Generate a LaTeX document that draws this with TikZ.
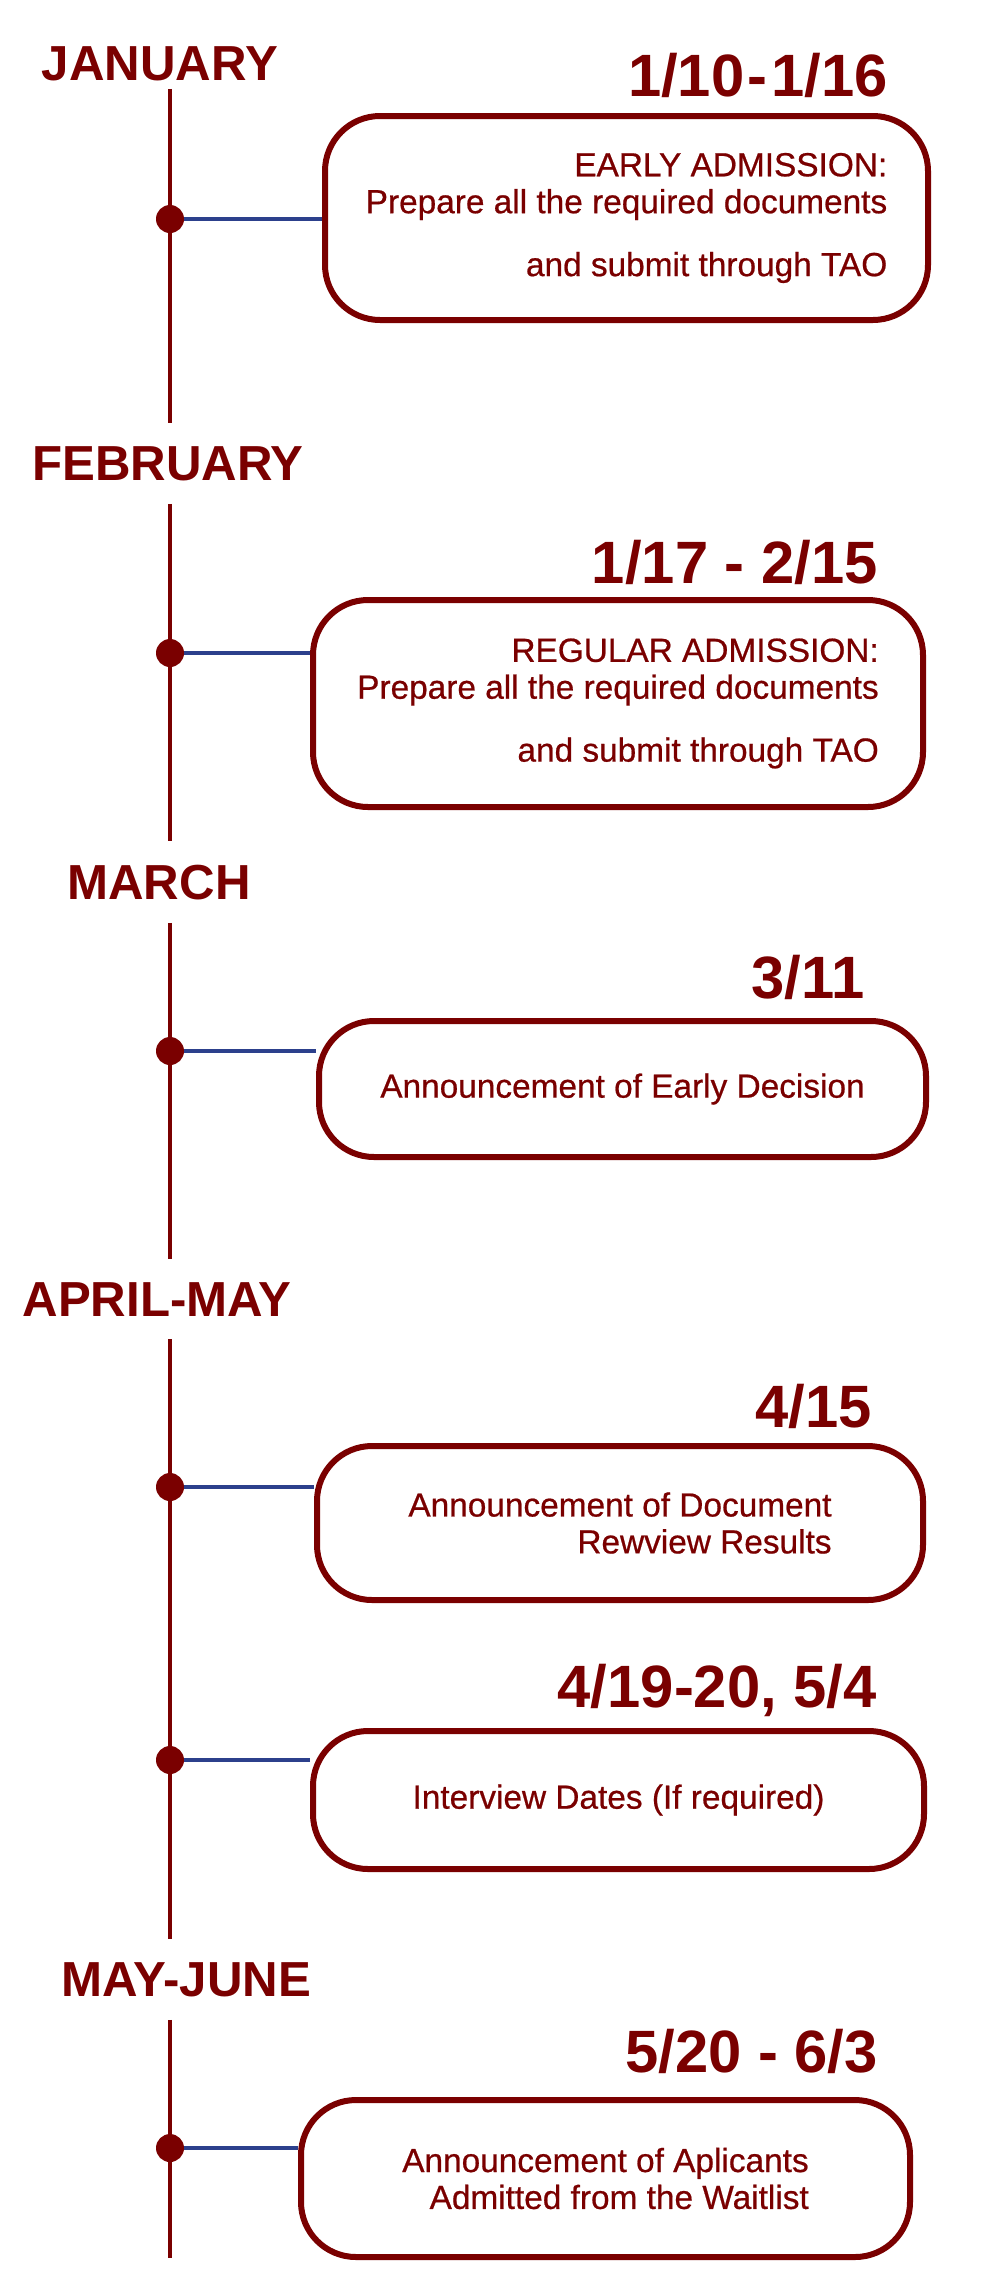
\documentclass[tikz,border=0pt]{standalone}
\usepackage{fontspec}
\setmainfont{Liberation Sans}
\newfontfamily\mediumfont{Liberation Sans}[FakeBold=0.6]
\usepackage{xcolor}
\usetikzlibrary{shapes,arrows,positioning,calc,arrows.meta}
\definecolor{maroon}{RGB}{122,0,0}
\definecolor{navyline}{RGB}{44,64,140}

\begin{document}
\begin{tikzpicture}[
    month/.style={text=maroon, font=\fontsize{28pt}{30pt}\selectfont\bfseries, anchor=base, inner ysep=0.46cm},
    date/.style={text=maroon, font=\fontsize{34pt}{36pt}\selectfont\bfseries, anchor=base east, inner sep=0pt},
    event/.style={draw=maroon, line width=0.12cm, rounded corners=1.1cm, fill=white, text=maroon, align=right, font=\mediumfont\fontsize{19pt}{21pt}\selectfont},
    dot/.style={circle, fill=maroon, inner sep=0pt, minimum size=0.56cm},
    tl/.style={maroon, line width=0.08cm},
    link/.style={navyline, line width=0.08cm}]

    \useasboundingbox (0,0) rectangle (20,-45.92);
    \coordinate (axis) at (3.4,0);
    \coordinate (tlend) at (3.4,-45.16);

    % Months
    \node[month] (jan) at (3.2, -1.6) {JANUARY};
    \node[month] (feb) at (3.36, -9.6) {FEBRUARY};
    \node[month] (mar) at (3.18, -17.98) {MARCH};
    \node[month] (apr) at (3.14, -26.32) {APRIL-MAY};
    \node[month] (jun) at (3.72, -39.92) {MAY-JUNE};

    % Timeline
    \draw[tl] ([yshift=0.3cm]jan.south -| axis) -- (feb.north -| axis);
    \draw[tl] (feb.south -| axis) -- (mar.north -| axis);
    \draw[tl] (mar.south -| axis) -- (apr.north -| axis);
    \draw[tl] (apr.south -| axis) -- (jun.north -| axis);
    \draw[tl] (jun.south -| axis) -- (tlend);

    % Dots
    \node[dot] (d1) at (3.4, -4.38) {};
    \node[dot] (d2) at (3.4, -13.06) {};
    \node[dot] (d3) at (3.4, -21.02) {};
    \node[dot] (d4) at (3.4, -29.74) {};
    \node[dot] (d5) at (3.4, -35.2) {};
    \node[dot] (d6) at (3.4, -42.96) {};

    % Events
    \node[event, minimum width=12.06cm, minimum height=4.08cm] (b1) at (12.53, -4.36) {EARLY ADMISSION:\\Prepare all the required documents\\[0.52cm]and submit through TAO};
    \node[event, minimum width=12.2cm, minimum height=4.14cm] (b2) at (12.36, -14.07) {REGULAR ADMISSION:\\Prepare all the required documents\\[0.52cm]and submit through TAO};
    \node[event, minimum width=12.14cm, minimum height=2.72cm] (b3) at (12.45, -21.78) {Announcement of Early Decision};
    \node[event, minimum width=12.12cm, minimum height=3.08cm] (b4) at (12.4, -30.46) {Announcement of Document\\Rewview Results};
    \node[event, minimum width=12.22cm, minimum height=2.76cm] (b5) at (12.37, -36.0) {Interview Dates (If required)};
    \node[event, minimum width=12.18cm, minimum height=3.14cm] (b6) at (12.11, -43.57) {Announcement of Aplicants\\Admitted from the Waitlist};

    % Dates
    \node[date] (t1) at (17.76, -1.92) {1/10\hspace{2pt}-\hspace{2pt}1/16};
    \node[date] (t2) at (17.56, -11.66) {1/17 - 2/15};
    \node[date] (t3) at (17.3, -19.96) {3/11};
    \node[date] (t4) at (17.44, -28.54) {4/15};
    \node[date] (t5) at (17.54, -34.14) {4/19-20, 5/4};
    \node[date] (t6) at (17.56, -41.44) {5/20 - 6/3};

    % Connections
    \draw[link] (d1.east) -- (d1 -| b1.west);
    \draw[link] (d2.east) -- (d2 -| b2.west);
    \draw[link] (d3.east) -- (d3 -| b3.west);
    \draw[link] (d4.east) -- (d4 -| b4.west);
    \draw[link] (d5.east) -- (d5 -| b5.west);
    \draw[link] (d6.east) -- (d6 -| b6.west);

\end{tikzpicture}
\end{document}
